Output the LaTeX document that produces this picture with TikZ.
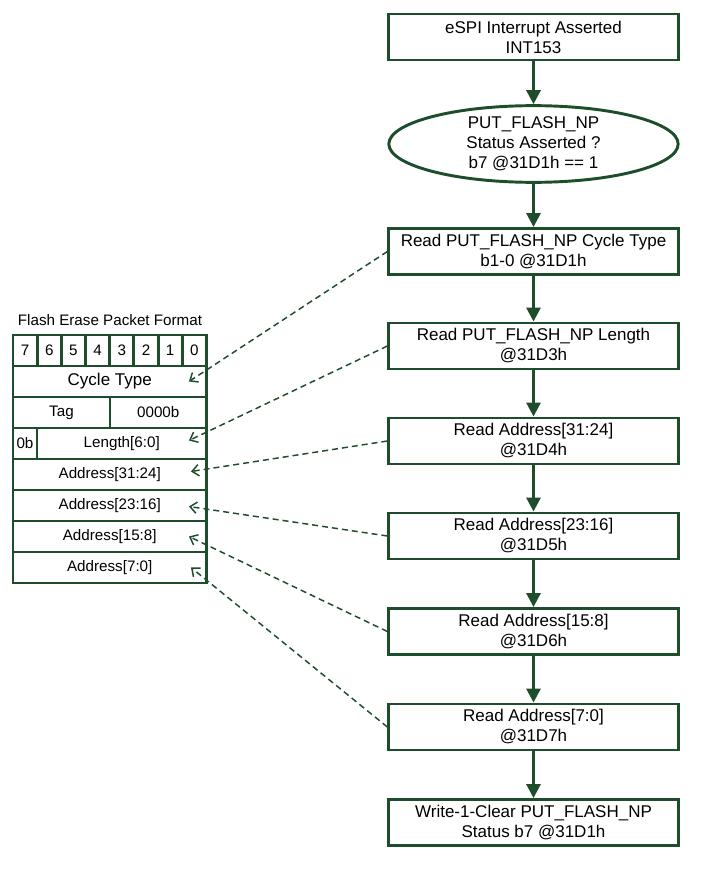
\documentclass[tikz,border=0pt]{standalone}
\usepackage{fontspec}
\setmainfont{Liberation Sans}
\usetikzlibrary{arrows.meta,shapes.geometric,calc}
\definecolor{lineg}{HTML}{1D4D2B}
\begin{document}
\begin{tikzpicture}[x=0.75pt,y=-0.75pt,
  flowbox/.style={draw=lineg, line width=2.2pt, rectangle, minimum width=217pt,
    minimum height=34.5pt, inner sep=0pt, align=center,
    font=\fontsize{12.75pt}{15pt}\selectfont},
  decision/.style={draw=lineg, line width=2.2pt, ellipse, minimum width=217pt,
    minimum height=53pt, inner sep=0pt, align=center,
    font=\fontsize{12.75pt}{15pt}\selectfont},
  flowarrow/.style={draw=lineg, line width=2.2pt,
    -{Triangle[length=10.5pt,width=10.5pt]}},
  cell/.style={draw=lineg, line width=2.2pt, rectangle, inner sep=0pt,
    minimum height=23.25pt, font=\fontsize{11.4pt}{13pt}\selectfont},
  bitcell/.style={cell, minimum width=18.14pt},
  rowcell/.style={cell, minimum width=145.125pt},
  fieldlink/.style={draw=lineg, line width=1.1pt, dash pattern=on 4.5pt off 3pt,
    -{Straight Barb[length=5pt,width=8.5pt,line width=1.1pt]}}
]
\useasboundingbox (0,0) rectangle (709,870);

% ---- flow of the interrupt handler ----
\node[flowbox] (int) at (533.5,37) {eSPI Interrupt Asserted\\INT153};
\node[decision] (chk) at (533.5,144) {PUT\_FLASH\_NP\\Status Asserted ?\\b7 @31D1h == 1};
\node[flowbox] (rct) at (533.5,251.5) {Read PUT\_FLASH\_NP Cycle Type\\b1-0 @31D1h};
\node[flowbox] (rln) at (533.5,346) {Read PUT\_FLASH\_NP Length\\@31D3h};
\node[flowbox] (ra3) at (533.5,441) {Read Address[31:24]\\@31D4h};
\node[flowbox] (ra2) at (533.5,536) {Read Address[23:16]\\@31D5h};
\node[flowbox] (ra1) at (533.5,631.5) {Read Address[15:8]\\@31D6h};
\node[flowbox] (ra0) at (533.5,727) {Read Address[7:0]\\@31D7h};
\node[flowbox] (clr) at (533.5,822.5) {Write-1-Clear PUT\_FLASH\_NP\\Status b7 @31D1h};

\draw[flowarrow] (int) -- (chk);
\draw[flowarrow] (chk) -- (rct);
\draw[flowarrow] (rct) -- (rln);
\draw[flowarrow] (rln) -- (ra3);
\draw[flowarrow] (ra3) -- (ra2);
\draw[flowarrow] (ra2) -- (ra1);
\draw[flowarrow] (ra1) -- (ra0);
\draw[flowarrow] (ra0) -- (clr);

% ---- packet layout ----
\node[font=\fontsize{11.4pt}{13pt}\selectfont] (title) at (110,320) {Flash Erase Packet Format};

\node[bitcell] (b7) at (25.09,350.5) {7};
\node[bitcell] (b6) at (49.28,350.5) {6};
\node[bitcell] (b5) at (73.47,350.5) {5};
\node[bitcell] (b4) at (97.66,350.5) {4};
\node[bitcell] (b3) at (121.84,350.5) {3};
\node[bitcell] (b2) at (146.03,350.5) {2};
\node[bitcell] (b1) at (170.22,350.5) {1};
\node[bitcell] (b0) at (194.41,350.5) {0};

\node[rowcell, font=\fontsize{12.75pt}{15pt}\selectfont] (cyc) at (109.75,381.5) {Cycle Type};
\node[cell, minimum width=72.75pt] (tag) at (61.5,412.5) {Tag};
\node[cell, minimum width=72.375pt] (rsv) at (158.25,412.5) {0000b};
\node[cell, minimum width=18pt] (zb) at (25,443.5) {0b};
\node[cell, minimum width=127.125pt] (len) at (121.75,443.5) {Length[6:0]};
\node[rowcell] (a3) at (109.75,474.5) {Address[31:24]};
\node[rowcell] (a2) at (109.75,505.5) {Address[23:16]};
\node[rowcell] (a1) at (109.75,536.5) {Address[15:8]};
\node[rowcell] (a0) at (109.75,567.5) {Address[7:0]};

% ---- which register fills which field ----
\draw[fieldlink] (rct.west) -- ($(cyc.east)+(-19,0)$);
\draw[fieldlink] (rln.west) -- ($(len.east)+(-19,-3)$);
\draw[fieldlink] (ra3.west) -- ($(a3.east)+(-17,-3)$);
\draw[fieldlink] (ra2.west) -- ($(a2.east)+(-19,1)$);
\draw[fieldlink] (ra1.west) -- ($(a1.east)+(-19,0)$);
\draw[fieldlink] (ra0.west) -- ($(a0.east)+(-17,0)$);
\end{tikzpicture}
\end{document}
